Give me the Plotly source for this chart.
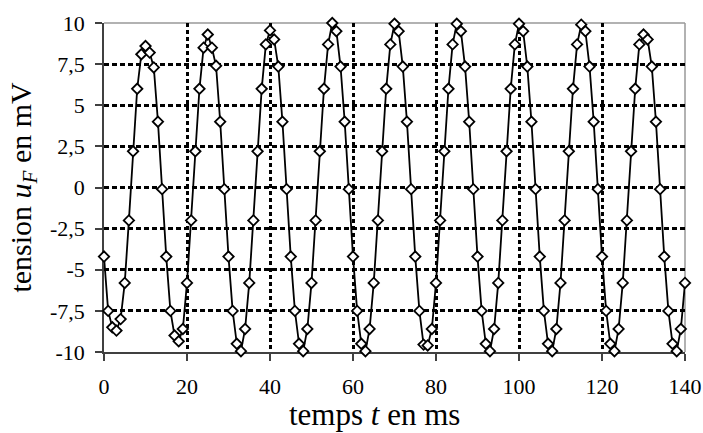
import plotly.graph_objects as go

t_ms = list(range(0, 141))
u_mV = [
    -4.2, -7.5, -8.5, -8.7, -8.0, -5.8, -2.0, 2.2, 6.0, 8.1, 8.6, 8.2, 7.3, 4.0, -0.1,
    -4.2, -7.5, -9.0, -9.35, -8.6, -5.8, -2.0, 2.2, 6.0, 8.5, 9.3, 8.5, 7.4, 4.0, -0.1,
    -4.2, -7.5, -9.5, -9.95, -8.6, -5.8, -2.0, 2.2, 6.0, 8.7, 9.55, 9.0, 7.35, 4.0, -0.1,
    -4.2, -7.5, -9.5, -9.95, -8.6, -5.8, -2.0, 2.2, 6.0, 8.7, 10.0, 9.5, 7.35, 4.0, -0.1,
    -4.2, -7.5, -9.5, -9.95, -8.6, -5.8, -2.0, 2.2, 6.0, 8.7, 9.95, 9.5, 7.35, 4.0, -0.1,
    -4.2, -7.5, -9.55, -9.6, -8.6, -5.8, -2.0, 2.2, 6.0, 8.7, 9.95, 9.5, 7.35, 4.0, -0.1,
    -4.2, -7.5, -9.5, -9.95, -8.6, -5.8, -2.0, 2.2, 6.0, 8.7, 9.95, 9.5, 7.35, 4.0, -0.1,
    -4.2, -7.5, -9.5, -9.95, -8.6, -5.8, -2.0, 2.2, 6.0, 8.7, 9.9, 9.5, 7.35, 4.0, -0.1,
    -4.2, -7.5, -9.5, -9.95, -8.6, -5.8, -2.0, 2.2, 6.0, 8.7, 9.3, 9.0, 7.35, 4.0, -0.1,
    -4.2, -7.5, -9.5, -9.95, -8.6, -5.8,
]

x_ticks = [0, 20, 40, 60, 80, 100, 120, 140]
y_ticks = [-10, -7.5, -5, -2.5, 0, 2.5, 5, 7.5, 10]
y_tick_labels = ["-10", "-7,5", "-5", "-2,5", "0", "2,5", "5", "7,5", "10"]

FONT = "Liberation Serif"

fig = go.Figure()
fig.add_trace(go.Scatter(
    x=t_ms, y=u_mV, mode="lines+markers",
    line=dict(color="black", width=1.8),
    marker=dict(symbol="diamond", size=8, color="white",
                line=dict(color="black", width=1.8)),
    cliponaxis=False, showlegend=False,
))

fig.update_layout(
    width=703, height=433,
    margin=dict(l=104, r=18, t=23, b=81),
    paper_bgcolor="white", plot_bgcolor="white",
    font=dict(family=FONT, size=22, color="black"),
    xaxis=dict(
        range=[0, 140], tickvals=x_ticks, ticktext=[str(v) for v in x_ticks],
        automargin=False,
        showline=True, linecolor="#404040", linewidth=1.5,
        ticks="outside", ticklen=7, tickwidth=1.5, tickcolor="#404040",
        ticklabelstandoff=7,
        showgrid=True, gridcolor="black", gridwidth=2.5, griddash="4px,3px",
        zeroline=False, layer="below traces",
    ),
    yaxis=dict(
        range=[-10, 10], tickvals=y_ticks, ticktext=y_tick_labels,
        automargin=False,
        showline=True, linecolor="#404040", linewidth=1.5,
        ticks="outside", ticklen=7, tickwidth=1.5, tickcolor="#404040",
        ticklabelstandoff=6,
        showgrid=True, gridcolor="black", gridwidth=2.5, griddash="5px,3px",
        zeroline=False, layer="below traces",
    ),
    shapes=[
        dict(type="line", xref="x domain", yref="y domain", x0=0, x1=1, y0=1, y1=1,
             line=dict(color="#999999", width=1.5), layer="below"),
        dict(type="line", xref="x domain", yref="y domain", x0=1, x1=1, y0=0, y1=1,
             line=dict(color="#999999", width=1.5), layer="below"),
    ],
    annotations=[
        dict(text="temps <i>t</i> en ms", xref="paper", yref="paper",
             x=0.466, y=-0.19, xanchor="center", yanchor="middle",
             showarrow=False, font=dict(family=FONT, size=31)),
        dict(text="tension <i>u</i><sub><i>F</i></sub> en mV", xref="paper", yref="paper",
             x=-0.141, y=0.5, xanchor="center", yanchor="middle", textangle=-90,
             showarrow=False, font=dict(family=FONT, size=30)),
    ],
)

fig.write_html("out.html", config={"displayModeBar": False},
               post_script="document.body.style.margin='0px';")
